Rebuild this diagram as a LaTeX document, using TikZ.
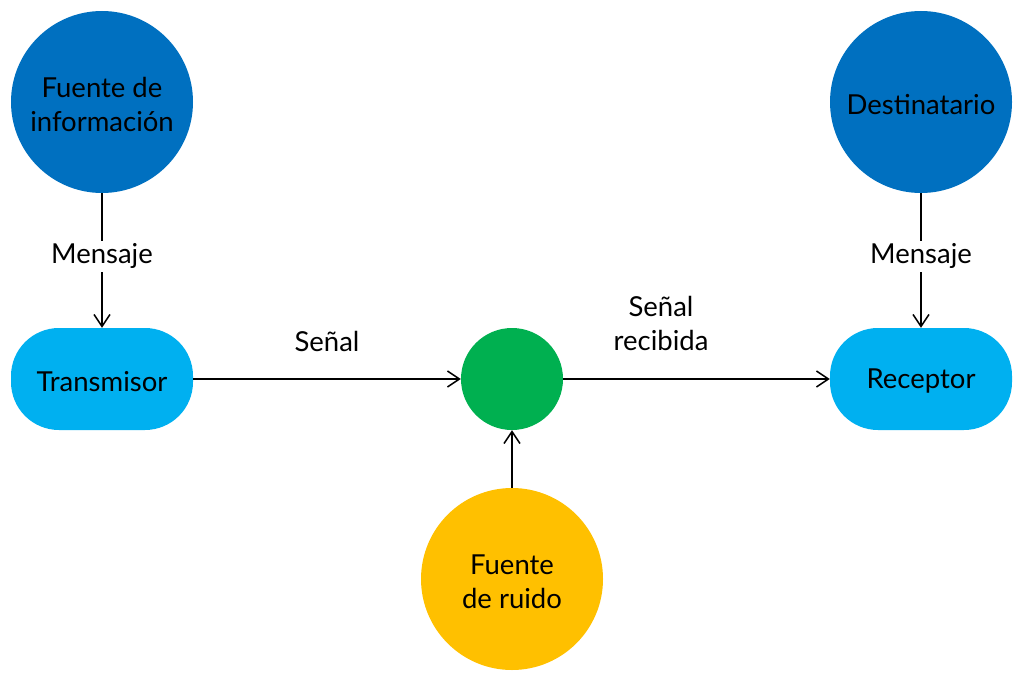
\documentclass[tikz,border=0pt]{standalone}
\usepackage{fontspec}
\setmainfont{Lato}
\usetikzlibrary{arrows.meta}
\definecolor{dblue}{HTML}{0070C0}
\definecolor{lblue}{HTML}{00B0F0}
\definecolor{cgreen}{HTML}{00B050}
\definecolor{cyellow}{HTML}{FFC000}
\begin{document}
\begin{tikzpicture}[x=1pt,y=-1pt,
  every node/.style={font=\fontsize{27.5}{34}\selectfont, text=black},
  bigcirc/.style={circle, minimum size=182pt, inner sep=0pt},
  pill/.style={rounded corners=48pt, minimum width=182pt, minimum height=102pt, inner sep=0pt},
  intext/.style={label={[yshift=-2.5pt, align=center]center:#1}},
  conn/.style={draw=black, line width=1.5pt, -{Straight Barb[length=12pt,width=16pt]}},
  lbl/.style={fill=white, inner sep=3pt}]
\useasboundingbox (0,0) rectangle (1024,682);
\node[bigcirc, fill=dblue, intext={Fuente de\\información}] (src) at (102,102) {};
\node[bigcirc, fill=dblue, intext={Destinatario}] (dst) at (921,102) {};
\node[pill, fill=lblue, intext={Transmisor}] (tx) at (102,379) {};
\node[pill, fill=lblue, intext={Receptor}] (rx) at (921,379) {};
\node[circle, minimum size=102pt, inner sep=0pt, fill=cgreen] (ch) at (512,379) {};
\node[bigcirc, fill=cyellow, intext={Fuente\\de ruido}] (noise) at (512,579) {};
\draw[conn] (src) -- node[lbl, pos=0.47] {Mensaje} (tx);
\draw[conn] (dst) -- node[lbl, pos=0.47] {Mensaje} (rx);
\draw[conn] (tx) -- (ch);
\draw[conn] (ch) -- (rx);
\draw[conn] (noise) -- (ch);
\node (s1) at (327,341) {Señal};
\node[align=center] (s2) at (661,323) {Señal\\recibida};
\end{tikzpicture}
\end{document}
